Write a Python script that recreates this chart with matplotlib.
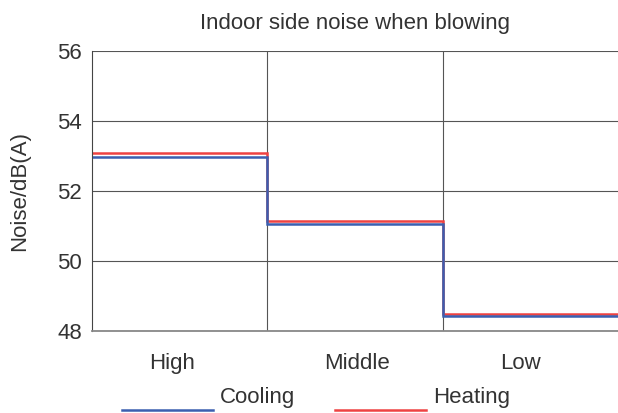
import numpy as np
import matplotlib
matplotlib.use('Agg')
import matplotlib.pyplot as plt
from matplotlib.legend_handler import HandlerLine2D

categories = ['High', 'Middle', 'Low']
cooling = [52.98, 51.05, 48.44]
heating = [53.1, 51.13, 48.5]
yticks = [48, 50, 52, 54, 56]

plt.rcParams['font.family'] = ['Liberation Sans', 'DejaVu Sans']
txt = '#333333'


class LowHandle(HandlerLine2D):
    # legend line sits below the text centre in the reference
    def create_artists(self, legend, orig_handle, xdescent, ydescent,
                       width, height, fontsize, trans):
        arts = super().create_artists(legend, orig_handle, xdescent, ydescent,
                                      width, height, fontsize, trans)
        for a in arts:
            a.set_ydata(np.asarray(a.get_ydata()) - 10)
        return arts


fig = plt.figure(figsize=(6.18, 4.13), dpi=100)
ax = fig.add_axes([92/618, 82/413, 526/618, 280/413])

edges = np.arange(len(categories) + 1)
ax.step(edges, heating + heating[-1:], where='post', color='#ee4242', lw=1.8,
        label='Heating', solid_joinstyle='miter')
ax.step(edges, cooling + cooling[-1:], where='post', color='#3b5fb0', lw=1.8,
        label='Cooling', solid_joinstyle='miter')

ax.set_xlim(0, len(categories))
ax.set_ylim(48, 56)
ax.set_yticks(yticks)
ax.set_xticks(edges[1:-1])
ax.set_xticklabels([])
ax.set_xticks(np.arange(len(categories)) + 0.325, minor=True)
ax.set_xticklabels(categories, minor=True, ha='left')
ax.tick_params(axis='both', which='both', length=0, labelsize=16,
               labelcolor=txt)
ax.tick_params(axis='x', which='minor', pad=16)
ax.tick_params(axis='y', pad=7)
ax.grid(True, color='#555555', lw=0.8)
ax.set_axisbelow(True)

for s in ['top', 'right']:
    ax.spines[s].set_visible(False)
ax.spines['left'].set_color('#444444')
ax.spines['left'].set_linewidth(0.8)
ax.spines['bottom'].set_color('#888888')
ax.spines['bottom'].set_linewidth(1.3)

ax.set_ylabel('Noise/dB(A)', fontsize=16, color=txt, labelpad=20)
ax.set_title('Indoor side noise when blowing', fontsize=16, color=txt, pad=16)

h, l = ax.get_legend_handles_labels()
leg = fig.legend(h[::-1], l[::-1], loc='center', ncol=2,
                 bbox_to_anchor=(316/618, 1 - 398/413), frameon=False,
                 fontsize=16, handlelength=4.1, handletextpad=0.3,
                 columnspacing=1.8, borderpad=0,
                 handler_map={matplotlib.lines.Line2D: LowHandle()})
for t in leg.get_texts():
    t.set_color(txt)

fig.savefig('out.png', dpi=100)
